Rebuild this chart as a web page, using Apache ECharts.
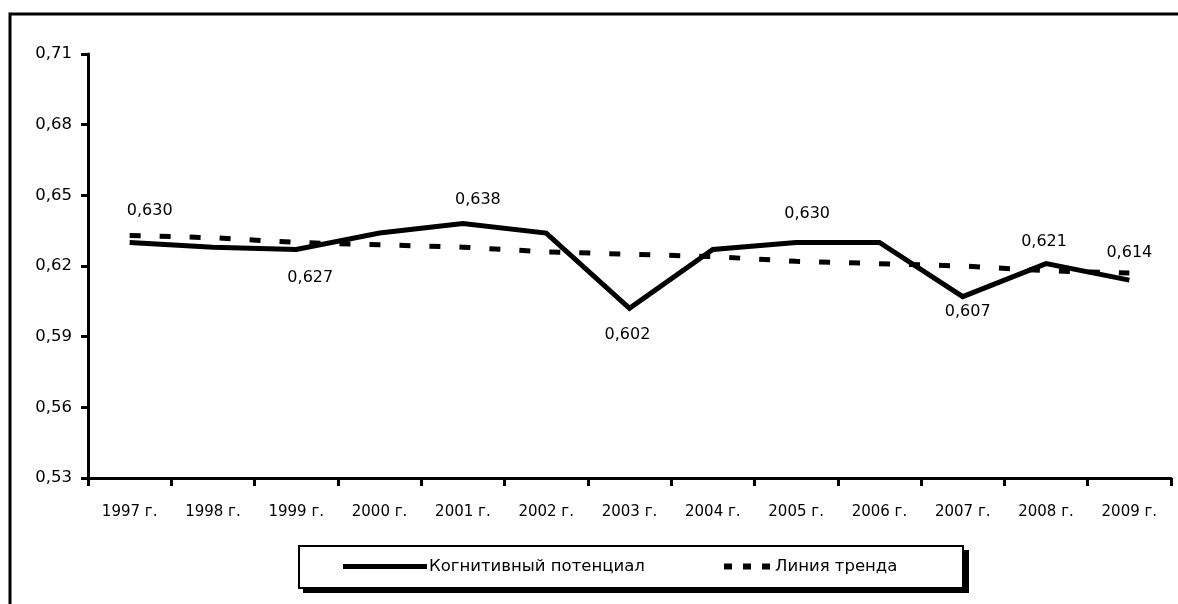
<!DOCTYPE html>
<html>
<head>
<meta charset="utf-8">
<script src="https://cdn.jsdelivr.net/npm/echarts@6/dist/echarts.min.js"></script>
<style>
html,body{margin:0;padding:0;background:#fff;}
#chart{width:1178px;height:604px;}
</style>
</head>
<body>
<div id="chart"></div>
<script>
const categories = ['1997 г.','1998 г.','1999 г.','2000 г.','2001 г.','2002 г.','2003 г.','2004 г.','2005 г.','2006 г.','2007 г.','2008 г.','2009 г.'];
const cognitive = [0.630, 0.628, 0.627, 0.634, 0.638, 0.634, 0.602, 0.627, 0.630, 0.630, 0.607, 0.621, 0.614];
const trend = [0.633, 0.632, 0.630, 0.629, 0.628, 0.626, 0.625, 0.624, 0.622, 0.621, 0.620, 0.618, 0.617];
const seriesNames = ['Когнитивный потенциал', 'Линия тренда'];
const yTicks = [0.53, 0.56, 0.59, 0.62, 0.65, 0.68, 0.71];

// label placement (index -> offset from point), layout only
const labelOffsets = {0:[20,-32], 2:[14,28], 4:[15,-24], 6:[-2,26], 8:[11,-29], 10:[5,15], 11:[-2,-22], 12:[0,-27]};

const FONT = 'DejaVu Sans';
const fmt = v => v.toFixed(3).replace('.', ',');

const cogData = cognitive.map((v, i) => {
  const o = labelOffsets[i];
  return o ? {value: v, label: {show: true, position: 'inside', offset: o, formatter: p => fmt(p.value), color: '#000', fontFamily: FONT, fontSize: 16}} : {value: v};
});

const chart = echarts.init(document.getElementById('chart'), null, {renderer: 'canvas'});
chart.setOption({
  animation: false,
  backgroundColor: '#fff',
  grid: {left: 88, top: 54, right: 7, bottom: 126, containLabel: false},
  xAxis: {
    type: 'category',
    data: categories,
    boundaryGap: true,
    axisLine: {lineStyle: {color: '#000', width: 3}},
    axisTick: {show: true, length: 8, lineStyle: {color: '#000', width: 3}},
    axisLabel: {color: '#000', fontFamily: FONT, fontSize: 15, margin: 27}
  },
  yAxis: {
    type: 'value',
    min: yTicks[0],
    max: yTicks[yTicks.length - 1],
    interval: 0.03,
    axisLine: {show: true, lineStyle: {color: '#000', width: 3}},
    axisTick: {show: true, length: 7, lineStyle: {color: '#000', width: 3}},
    splitLine: {show: false},
    axisLabel: {color: '#000', fontFamily: FONT, fontSize: 16.5, margin: 16, formatter: v => v.toFixed(2).replace('.', ',')}
  },
  legend: [
    {
      data: [{name: seriesNames[0], icon: 'rect', itemStyle: {color: '#000', opacity: 1}}],
      left: 338, top: 553,
      itemWidth: 84, itemHeight: 5, itemGap: 0,
      itemStyle: {color: '#000', opacity: 1},
      textStyle: {color: '#000', fontFamily: FONT, fontSize: 16.5, padding: [0,0,0,-3]},
      selectedMode: false
    },
    {
      data: [{name: seriesNames[1], icon: 'path://M0,0h8v6h-8z M19,0h8v6h-8z M38,0h8v6h-8z', itemStyle: {color: '#000'}}],
      left: 719, top: 553,
      itemWidth: 46, itemHeight: 6, itemGap: 0,
      itemStyle: {color: '#000'},
      textStyle: {color: '#000', fontFamily: FONT, fontSize: 16.5, padding: [0,0,0,0]},
      selectedMode: false
    }
  ],
  graphic: [
    {type: 'rect', shape: {x: 10, y: 14, width: 1200, height: 620}, style: {fill: 'none', stroke: '#000', lineWidth: 3}, z: -10, silent: true},
    {type: 'rect', shape: {x: 303, y: 550, width: 666, height: 43}, style: {fill: '#000'}, z: -5, silent: true},
    {type: 'rect', shape: {x: 299, y: 546, width: 664, height: 42}, style: {fill: '#fff', stroke: '#000', lineWidth: 2}, z: -4, silent: true}
  ],
  series: [
    {
      name: seriesNames[1],
      type: 'line',
      data: trend,
      symbol: 'none',
      lineStyle: {color: '#000', width: 5, type: [11, 19], cap: 'butt'},
      itemStyle: {color: '#000'},
      z: 2
    },
    {
      name: seriesNames[0],
      type: 'line',
      data: cogData,
      symbol: 'circle',
      symbolSize: 1,
      showSymbol: true,
      itemStyle: {color: 'rgba(0,0,0,0)'},
      lineStyle: {color: '#000', width: 5, join: 'miter'},
      z: 3
    }
  ]
});
</script>
</body>
</html>
